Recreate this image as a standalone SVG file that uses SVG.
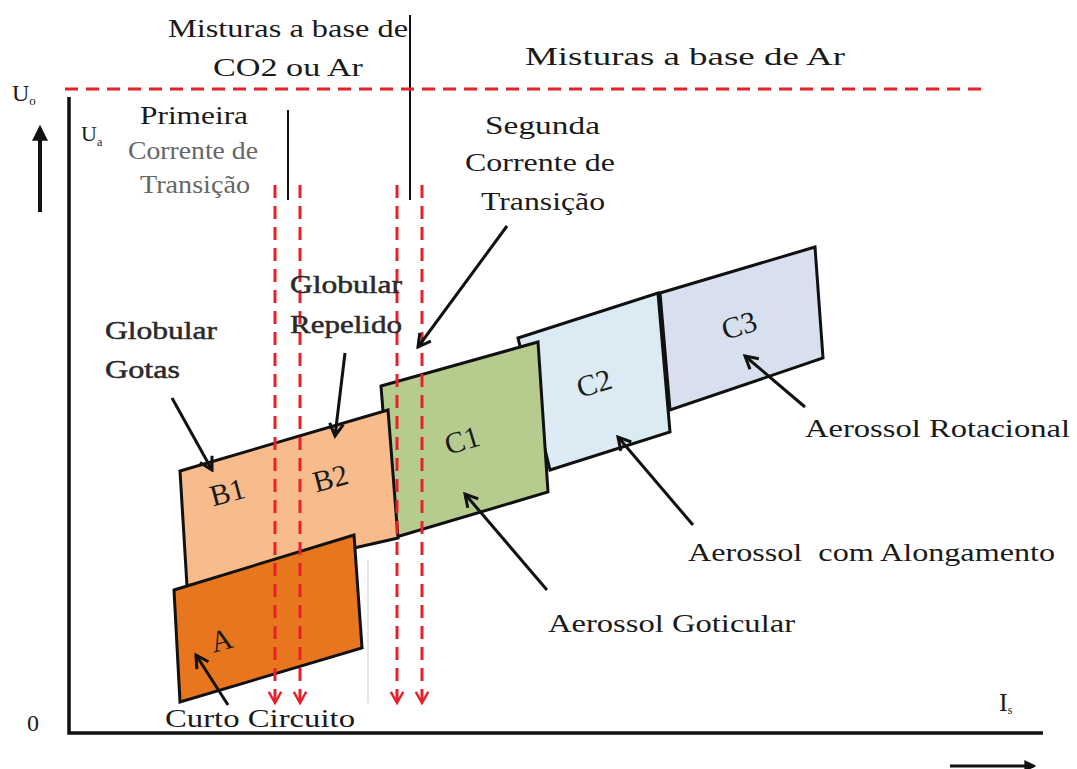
<svg xmlns="http://www.w3.org/2000/svg" width="1077" height="769" viewBox="0 0 1077 769">
<style>
text{font-family:"Liberation Serif","Times New Roman",serif;fill:#1a1a1a}
.t{font-size:26px}
.g{fill:#666}
.d{fill:#2a2a2a;stroke:#2a2a2a;stroke-width:0.5}
.box{stroke:#111;stroke-width:3;stroke-linejoin:miter}
.lbl{font-size:30px;text-anchor:middle}
.arr{stroke:#111;stroke-width:3;fill:none;marker-end:url(#ah)}
.red{stroke:#e8202a;stroke-width:3;fill:none;stroke-dasharray:13 8}
.ax{stroke:#111;stroke-width:3.5;fill:none}
</style>
<defs>
<marker id="ah" viewBox="0 0 12 12" refX="10" refY="6" markerWidth="5.5" markerHeight="5.5" orient="auto" markerUnits="strokeWidth">
<path d="M1,1 L10,6 L1,11" fill="none" stroke="#111" stroke-width="2.2"/>
</marker>
<marker id="rh" viewBox="0 0 12 12" refX="10" refY="6" markerWidth="5" markerHeight="5" orient="auto" markerUnits="strokeWidth">
<path d="M1,1 L10,6 L1,11" fill="none" stroke="#e8202a" stroke-width="2"/>
</marker>
<marker id="bh" viewBox="0 0 10 10" refX="8" refY="5" markerWidth="4" markerHeight="4" orient="auto" markerUnits="strokeWidth">
<path d="M0,0 L10,5 L0,10 z" fill="#111"/>
</marker>
</defs>
<rect width="1077" height="769" fill="#fff"/>

<g id="axes">
<path class="ax" d="M69,97 V733 H1043"/>
<path d="M40,212 V128" stroke="#111" stroke-width="4" marker-end="url(#bh)"/>
<path d="M950,766 H1034" stroke="#111" stroke-width="3" marker-end="url(#bh)"/>
<path d="M288,110 V200" stroke="#111" stroke-width="2"/>
<path d="M410,15 V200" stroke="#111" stroke-width="2"/>
<path d="M368,560 V703" stroke="#ccc" stroke-width="1"/>
</g>

<g id="boxC3"><path class="box" fill="#d8e0f0" d="M660,293 L815,247 L823,358 L670,410 Z"/>
<text class="lbl" transform="translate(742,335) rotate(-17)">C3</text></g>
<g id="boxC2"><path class="box" fill="#dbeaf3" d="M518,338 L658,293 L670,432 L550,470 Z"/>
<text class="lbl" transform="translate(597,393) rotate(-17)">C2</text></g>
<g id="boxC1"><path class="box" fill="#b6cc8e" d="M381,386 L538,342 L548,492 L393,538 Z"/>
<text class="lbl" transform="translate(465,450) rotate(-17)">C1</text></g>
<g id="boxB"><path class="box" fill="#f8bb8c" d="M180,471 L388,410 L398,538 L187,586 Z"/>
<text class="lbl" transform="translate(230,502) rotate(-15)">B1</text>
<text class="lbl" transform="translate(333,488) rotate(-15)">B2</text></g>
<g id="boxA"><path class="box" fill="#e8761e" d="M174,590 L354,535 L362,648 L180,702 Z"/>
<text class="lbl" transform="translate(224,650) rotate(-15)">A</text></g>

<g id="connectors">
<path class="red" d="M65,89 H985"/>
<path class="red" d="M275,185 V703" marker-end="url(#rh)"/>
<path class="red" d="M300,185 V703" marker-end="url(#rh)"/>
<path class="red" d="M397,185 V703" marker-end="url(#rh)"/>
<path class="red" d="M422,185 V703" marker-end="url(#rh)"/>
<path class="arr" d="M172,398 L212,470"/>
<path class="arr" d="M345,353 L335,436"/>
<path class="arr" d="M507,226 L418,347"/>
<path class="arr" d="M547,590 L465,494"/>
<path class="arr" d="M693,525 L618,437"/>
<path class="arr" d="M805,407 L745,356"/>
<path class="arr" d="M228,705 L196,655"/>
</g>

<g id="labels">
<text class="t" x="168" y="37" textLength="240" lengthAdjust="spacingAndGlyphs">Misturas a base de</text>
<text class="t" x="213" y="76" textLength="150" lengthAdjust="spacingAndGlyphs">CO2 ou Ar</text>
<text class="t" x="525" y="65" textLength="320" lengthAdjust="spacingAndGlyphs">Misturas a base de Ar</text>
<text x="12" y="101" font-size="24">U<tspan font-size="13" dy="4">o</tspan></text>
<text x="81" y="141" font-size="22">U<tspan font-size="12" dy="5">a</tspan></text>
<text class="t" x="140" y="124" textLength="108" lengthAdjust="spacingAndGlyphs">Primeira</text>
<text class="t g" x="128" y="159" font-size="22" textLength="130" lengthAdjust="spacingAndGlyphs">Corrente de</text>
<text class="t g" x="140" y="193" font-size="22" textLength="110" lengthAdjust="spacingAndGlyphs">Transição</text>
<text class="t" x="485" y="134" textLength="115" lengthAdjust="spacingAndGlyphs">Segunda</text>
<text class="t" x="465" y="171" textLength="150" lengthAdjust="spacingAndGlyphs">Corrente de</text>
<text class="t" x="481" y="210" textLength="124" lengthAdjust="spacingAndGlyphs">Transição</text>
<text class="t d" x="105" y="339" textLength="112" lengthAdjust="spacingAndGlyphs">Globular</text>
<text class="t d" x="105" y="378" textLength="75" lengthAdjust="spacingAndGlyphs">Gotas</text>
<text class="t d" x="290" y="293" textLength="112" lengthAdjust="spacingAndGlyphs">Globular</text>
<text class="t d" x="290" y="333" textLength="112" lengthAdjust="spacingAndGlyphs">Repelido</text>
<text class="t" x="805" y="437" textLength="265" lengthAdjust="spacingAndGlyphs">Aerossol Rotacional</text>
<text class="t" x="688" y="561" textLength="367" lengthAdjust="spacingAndGlyphs" xml:space="preserve">Aerossol  com Alongamento</text>
<text class="t" x="548" y="632" textLength="247" lengthAdjust="spacingAndGlyphs">Aerossol Goticular</text>
<text class="t" x="165" y="727" textLength="190" lengthAdjust="spacingAndGlyphs">Curto Circuito</text>
<text x="27" y="731" font-size="24" fill="#444">0</text>
<text x="999" y="711" font-size="26">I<tspan font-size="12" dy="3">s</tspan></text>
</g>
</svg>
